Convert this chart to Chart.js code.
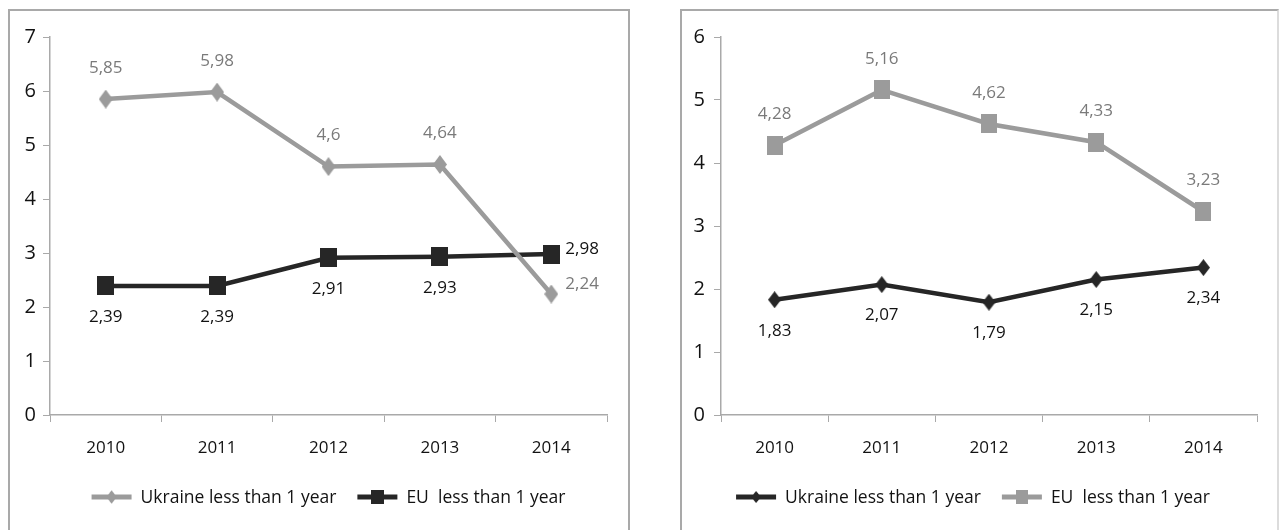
<!DOCTYPE html>
<html>
<head>
<meta charset="utf-8">
<script src="https://cdn.jsdelivr.net/npm/chart.js@4"></script>
<style>
    body { margin: 0; background: #fff; width: 1279px; height: 530px; overflow: hidden; position: relative; }
    .box { position: absolute; top: 9px; border: 2px solid #a9a9a9; border-bottom: none; background: #fff; overflow: hidden; }
    #boxLeft { left: 8px; width: 618px; height: 519px; }
    #boxRight { left: 680px; width: 595px; height: 519px; border-right-color: #dcdcdc; }
    canvas { display: block; }
</style>
</head>
<body>
<div class="box" id="boxLeft"><canvas id="chartLeft" width="618" height="519"></canvas></div>
<div class="box" id="boxRight"><canvas id="chartRight" width="595" height="519"></canvas></div>
<script>
var years = ['2010', '2011', '2012', '2013', '2014'];

var ukraineLeft = [5.85, 5.98, 4.6, 4.64, 2.24];
var euLeft = [2.39, 2.39, 2.91, 2.93, 2.98];

var ukraineRight = [1.83, 2.07, 1.79, 2.15, 2.34];
var euRight = [4.28, 5.16, 4.62, 4.33, 3.23];

var maxLeft = 7;
var maxRight = 6;

var GREY = '#9b9b9b';
var GREY_TEXT = '#7a7a7a';
var DARK = '#262626';
var TEXT = '#121212';
var AXIS = '#a9a9a9';
var FONT = '"Open Sans"';

function makeMarker(shape, w, h, color) {
    var c = document.createElement('canvas');
    c.width = w;
    c.height = h;
    var ctx = c.getContext('2d');
    ctx.fillStyle = color;
    ctx.beginPath();
    if (shape == 'diamond') {
        ctx.moveTo(w / 2, 0);
        ctx.lineTo(w, h / 2);
        ctx.lineTo(w / 2, h);
        ctx.lineTo(0, h / 2);
    } else {
        ctx.rect(0, 0, w, h);
    }
    ctx.closePath();
    ctx.fill();
    return c;
}

function formatValue(v) {
    return String(v).replace('.', ',');
}

// value labels next to every point, placement per point
var valueLabels = {
    id: 'valueLabels',
    afterDatasetsDraw: function(chart) {
        var ctx = chart.ctx;
        ctx.save();
        ctx.font = '17px ' + FONT;
        ctx.textBaseline = 'middle';
        chart.data.datasets.forEach(function(ds, i) {
            var meta = chart.getDatasetMeta(i);
            meta.data.forEach(function(pt, j) {
                var pos = ds.labelPos[j];
                var text = formatValue(ds.data[j]);
                ctx.fillStyle = ds.labelColor;
                if (pos == 'above') {
                    ctx.textAlign = 'center';
                    ctx.fillText(text, pt.x, pt.y - 31);
                } else if (pos == 'below') {
                    ctx.textAlign = 'center';
                    ctx.fillText(text, pt.x, pt.y + 31);
                } else if (pos == 'rightUp') {
                    ctx.textAlign = 'left';
                    ctx.fillText(text, pt.x + 14, pt.y - 10);
                } else {
                    ctx.textAlign = 'left';
                    ctx.fillText(text, pt.x + 14, pt.y - 5);
                }
            });
        });
        ctx.restore();
    }
};

// legend with a line segment and the marker in its middle
var lineLegend = {
    id: 'lineLegend',
    afterDraw: function(chart) {
        var ctx = chart.ctx;
        var area = chart.chartArea;
        var shift = chart.options.plugins.lineLegend.shift;
        var y = 486;
        var lineLen = 40;
        var gap = 9;
        var itemGap = 21;
        ctx.save();
        ctx.font = '17.5px ' + FONT;
        ctx.textBaseline = 'middle';
        ctx.textAlign = 'left';

        var items = chart.data.datasets.map(function(ds) {
            return { ds: ds, w: lineLen + gap + ctx.measureText(ds.label).width };
        });
        var total = items[0].w + itemGap + items[1].w;
        var x = (area.left + area.right) / 2 - total / 2 + shift;

        items.forEach(function(it) {
            ctx.strokeStyle = it.ds.borderColor;
            ctx.lineWidth = 5;
            ctx.beginPath();
            ctx.moveTo(x, y);
            ctx.lineTo(x + lineLen, y);
            ctx.stroke();
            var img = it.ds.pointStyle;
            var w = img.width * 0.72, h = img.height * 0.72;
            ctx.drawImage(img, x + lineLen / 2 - w / 2, y - h / 2, w, h);
            ctx.fillStyle = TEXT;
            ctx.fillText(it.ds.label, x + lineLen + gap, y + 1);
            x += it.w + itemGap;
        });
        ctx.restore();
    }
};

function makeConfig(datasets, maxY, axisWidth, padRight, tickPad, legendShift) {
    return {
        type: 'line',
        plugins: [valueLabels, lineLegend],
        data: {
            labels: years,
            datasets: datasets
        },
        options: {
            responsive: false,
            animation: false,
            layout: {
                padding: { top: 26, right: padRight, left: 0, bottom: 0 }
            },
            plugins: {
                legend: { display: false },
                tooltip: { enabled: false },
                lineLegend: { shift: legendShift }
            },
            scales: {
                x: {
                    offset: true,
                    grid: {
                        offset: true,
                        drawOnChartArea: false,
                        tickLength: 7,
                        color: AXIS
                    },
                    border: { color: AXIS, width: 1.5 },
                    ticks: {
                        color: TEXT,
                        font: { family: FONT, size: 17 },
                        padding: 16,
                        maxRotation: 0
                    },
                    afterFit: function(scale) {
                        scale.height = 115;
                    }
                },
                y: {
                    min: 0,
                    max: maxY,
                    grid: {
                        drawOnChartArea: false,
                        tickLength: 7,
                        color: AXIS
                    },
                    border: { color: AXIS, width: 1.5 },
                    ticks: {
                        stepSize: 1,
                        color: TEXT,
                        font: { family: FONT, size: 20 },
                        padding: tickPad
                    },
                    afterFit: function(scale) {
                        scale.width = axisWidth;
                    }
                }
            }
        }
    };
}

var leftDatasets = [{
    label: 'Ukraine less than 1 year',
    data: ukraineLeft,
    borderColor: GREY,
    borderWidth: 4.5,
    pointStyle: makeMarker('diamond', 14, 19, GREY),
    labelColor: GREY_TEXT,
    labelPos: ['above', 'above', 'above', 'above', 'rightUp']
}, {
    label: 'EU  less than 1 year',
    data: euLeft,
    borderColor: DARK,
    borderWidth: 4.5,
    pointStyle: makeMarker('square', 17, 19, DARK),
    labelColor: TEXT,
    labelPos: ['below', 'below', 'below', 'below', 'right']
}];

var rightDatasets = [{
    label: 'Ukraine less than 1 year',
    data: ukraineRight,
    borderColor: DARK,
    borderWidth: 4.5,
    pointStyle: makeMarker('diamond', 13, 17, DARK),
    labelColor: TEXT,
    labelPos: ['below', 'below', 'below', 'below', 'below']
}, {
    label: 'EU  less than 1 year',
    data: euRight,
    borderColor: GREY,
    borderWidth: 4.5,
    pointStyle: makeMarker('square', 16, 19, GREY),
    labelColor: GREY_TEXT,
    labelPos: ['above', 'above', 'above', 'above', 'above']
}];

new Chart(document.getElementById('chartLeft'), makeConfig(leftDatasets, maxLeft, 40, 21, 7, 0));
new Chart(document.getElementById('chartRight'), makeConfig(rightDatasets, maxRight, 39, 20, 9, -16));
</script>
</body>
</html>
